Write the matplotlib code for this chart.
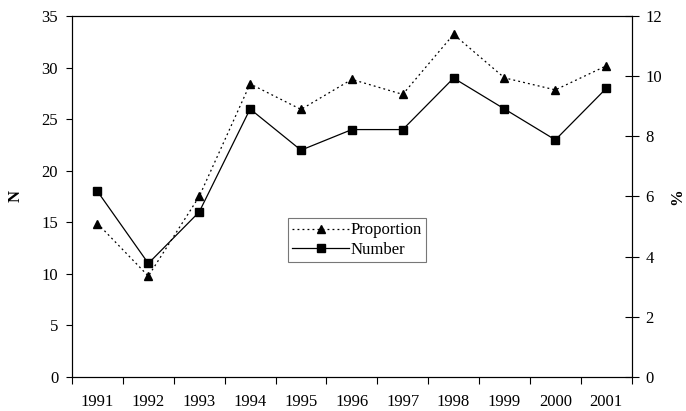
import matplotlib
matplotlib.use("Agg")
import matplotlib.pyplot as plt

years = ["1991", "1992", "1993", "1994", "1995", "1996", "1997", "1998", "1999", "2000", "2001"]
number = [18, 11, 16, 26, 22, 24, 24, 29, 26, 23, 28]
proportion = [5.1, 3.35, 6.0, 9.75, 8.9, 9.9, 9.4, 11.4, 9.95, 9.55, 10.35]
left_ticks = [0, 5, 10, 15, 20, 25, 30, 35]
right_ticks = [0, 2, 4, 6, 8, 10, 12]

plt.rcParams['font.family'] = ['Liberation Serif', 'DejaVu Serif']

fig = plt.figure(figsize=(6.86, 4.11), dpi=100)
ax = fig.add_axes([0.105, 0.0835, 0.8158, 0.8768])
ax2 = ax.twinx()

x = list(range(len(years)))
ln_num, = ax.plot(x, number, color='black', lw=0.9, marker='s', markersize=5.6, label='Number')
ln_prop, = ax2.plot(x, proportion, color='black', lw=0.9, linestyle=(0, (1.5, 2.5)),
                    marker='^', markersize=6.2, label='Proportion')

ax.set_xlim(-0.5, len(years) - 0.5)
ax.set_ylim(0, 35)
ax2.set_ylim(0, 12)
ax.set_yticks(left_ticks)
ax2.set_yticks(right_ticks)
ax.set_xticks(x)
ax.set_xticklabels(years)
ax.set_xticks([i - 0.5 for i in range(len(years) + 1)], minor=True)
ax.tick_params(axis='x', which='major', length=0, pad=12.5, labelsize=12)
ax.tick_params(axis='x', which='minor', length=5, width=0.8, direction='out')
ax.tick_params(axis='y', length=4, width=0.8, direction='out', pad=6, labelsize=12)
ax2.tick_params(axis='y', length=10, width=0.8, direction='inout', pad=5, labelsize=12)

for a in (ax, ax2):
    for s in a.spines.values():
        s.set_linewidth(0.8)
        s.set_color('black')

ax.set_ylabel('N', fontsize=12, fontweight='bold', labelpad=13)
ax2.set_ylabel('%', fontsize=12, fontweight='bold', labelpad=5)

leg = ax.legend(handles=[ln_prop, ln_num], labels=['Proportion', 'Number'],
                loc='upper left', bbox_to_anchor=(288.3 / 686, 1 - 218.3 / 411),
                bbox_transform=fig.transFigure, fontsize=12, frameon=True, fancybox=False,
                edgecolor='#555555', handlelength=3.4, handletextpad=0.1, borderpad=0.25,
                labelspacing=0.2, borderaxespad=0)
leg.get_frame().set_linewidth(0.8)

fig.savefig('out.png', dpi=100)
